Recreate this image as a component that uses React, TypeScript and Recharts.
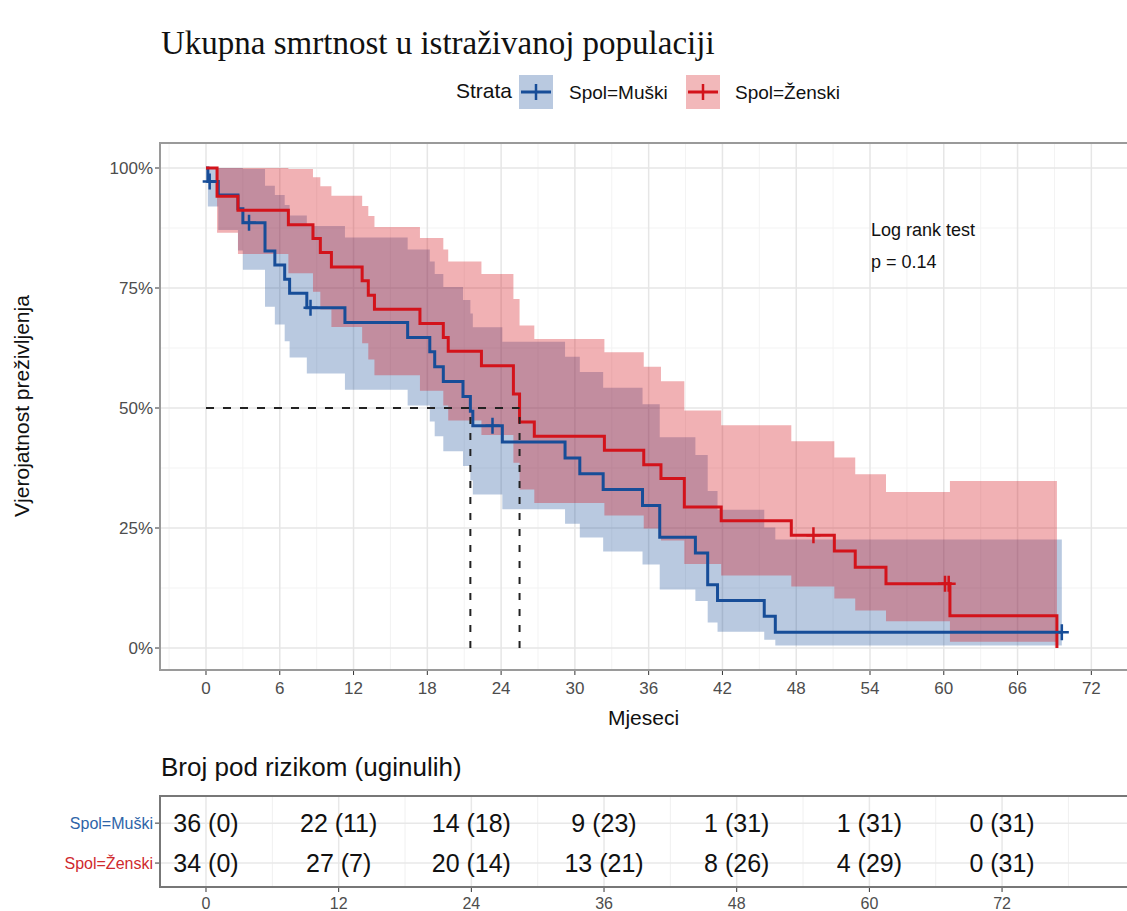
import React from 'react'
import {
  ComposedChart,
  Area,
  Line,
  Scatter,
  XAxis,
  YAxis,
  CartesianGrid,
  ReferenceLine,
} from 'recharts'

// survival steps (percent)
const maleTimes = [0, 0.15, 1.0, 2.6, 3.0, 4.8, 5.6, 6.4, 6.8, 8.2, 11.3, 16.4, 18.2, 18.6, 19.3, 20.9, 21.5, 21.7, 24.1, 29.2, 30.4, 32.3, 35.5, 36.9, 39.8, 40.8, 41.6, 45.4, 46.3, 69.6]
const maleSurv = [100, 97.2, 94.4, 91.5, 88.6, 82.7, 79.8, 76.8, 73.9, 70.9, 67.8, 64.7, 61.7, 58.6, 55.5, 52.4, 49.3, 46.3, 42.9, 39.6, 36.3, 33.0, 29.7, 23.1, 19.8, 13.2, 9.9, 6.6, 3.3, 3.3]
const maleLower = [100, 92.0, 87.1, 82.8, 78.8, 71.1, 67.4, 63.9, 60.5, 57.2, 53.8, 50.5, 47.2, 44.1, 41.0, 37.9, 34.9, 32.0, 28.9, 25.9, 23.0, 20.1, 17.4, 12.2, 9.8, 5.3, 3.4, 1.7, 0.5, 0.5]
const maleUpper = [100, 100, 100, 100, 99.8, 96.3, 94.4, 92.3, 90.1, 87.9, 85.5, 83.0, 80.5, 77.9, 75.2, 72.5, 69.7, 66.8, 63.8, 60.7, 57.5, 54.2, 50.8, 43.9, 40.2, 32.7, 28.8, 25.1, 22.6, 22.6]

const femaleTimes = [0, 0.9, 2.6, 6.7, 8.7, 9.3, 10.2, 12.7, 13.2, 13.7, 17.4, 19.3, 19.7, 22.4, 25.0, 25.5, 26.7, 32.4, 35.6, 37.0, 38.9, 41.9, 47.6, 51.1, 52.8, 55.3, 60.5, 69.2]
const femaleSurv = [100, 94.1, 91.2, 88.2, 85.3, 82.4, 79.4, 76.5, 73.5, 70.6, 67.6, 64.7, 61.8, 58.8, 52.9, 47.1, 44.1, 41.2, 38.2, 35.3, 29.4, 26.5, 23.5, 20.2, 16.8, 13.4, 6.7, 0]
const femaleLower = [100, 86.5, 82.1, 78.1, 74.2, 70.5, 66.9, 63.5, 60.1, 56.8, 53.6, 50.5, 47.4, 44.4, 38.6, 33.0, 30.2, 27.6, 24.9, 22.4, 17.5, 15.1, 12.8, 10.3, 7.8, 5.6, 1.3, 1.3]
const femaleUpper = [100, 100, 100, 99.8, 98.1, 96.2, 94.2, 92.1, 90.0, 87.7, 85.4, 83.0, 80.5, 77.9, 72.7, 67.2, 64.4, 61.6, 58.6, 55.6, 49.5, 46.4, 43.1, 39.7, 36.2, 32.5, 34.8, 34.8]

const maleCensorTimes = [0.3, 3.5, 8.5, 23.3, 69.6]
const maleCensorSurv = [97.2, 88.6, 70.9, 46.3, 3.3]
const femaleCensorTimes = [49.4, 60.1, 60.4]
const femaleCensorSurv = [23.5, 13.4, 13.4]

const medianTimes = [21.5, 25.5]

const xTicks = [0, 6, 12, 18, 24, 30, 36, 42, 48, 54, 60, 66, 72]
const xMinor = [-3, 3, 9, 15, 21, 27, 33, 39, 45, 51, 57, 63, 69, 75]
const yTicks = [0, 25, 50, 75, 100]
const yMinor = [12.5, 37.5, 62.5, 87.5]

// risk table
const riskTimes = [0, 12, 24, 36, 48, 60, 72]
const maleAtRisk = [36, 22, 14, 9, 1, 1, 0]
const maleDeaths = [0, 11, 18, 23, 31, 31, 31]
const femaleAtRisk = [34, 27, 20, 13, 8, 4, 0]
const femaleDeaths = [0, 7, 14, 21, 26, 29, 31]
const riskStrata = ['Spol=Muški', 'Spol=Ženski']

const MALE = '#174D98'
const FEMALE = '#D3131B'
const FONT = '"Liberation Sans", Arial, sans-serif'

const maleData = maleTimes.map((t, i) => ({ t, s: maleSurv[i], band: [maleLower[i], maleUpper[i]] }))
const femaleData = femaleTimes.map((t, i) => ({ t, s: femaleSurv[i], band: [femaleLower[i], femaleUpper[i]] }))
const maleCensors = maleCensorTimes.map((t, i) => ({ t, s: maleCensorSurv[i] }))
const femaleCensors = femaleCensorTimes.map((t, i) => ({ t, s: femaleCensorSurv[i] }))

const riskRows = [
  ...riskTimes.map((t, i) => ({ t, row: 2, label: `${maleAtRisk[i]} (${maleDeaths[i]})` })),
  ...riskTimes.map((t, i) => ({ t, row: 1, label: `${femaleAtRisk[i]} (${femaleDeaths[i]})` })),
]

const plus = (color: string) => (props: any) => {
  const { cx, cy } = props
  return (
    <path
      d={`M${cx - 7},${cy}H${cx + 7}M${cx},${cy - 8}V${cy + 8}`}
      stroke={color}
      strokeWidth={2.5}
      fill='none'
    />
  )
}

const riskLabel = (props: any) => {
  const { cx, cy, payload } = props
  return (
    <text x={cx} y={cy} textAnchor='middle' dominantBaseline='central' fontSize={25} fontFamily={FONT} fill='#111'>
      {payload.label}
    </text>
  )
}

const StrataTick = (props: any) => {
  const { x, y, payload } = props
  const label = payload.value === 2 ? riskStrata[0] : riskStrata[1]
  return (
    <text x={x} y={y} textAnchor='end' dominantBaseline='central' fontSize={16} fontFamily={FONT} fill={payload.value === 2 ? '#2E64A8' : '#CF2A2E'}>
      {label}
    </text>
  )
}

const LegendKey = ({ color, left }: { color: string; left: number }) => (
  <svg width={34} height={34} style={{ position: 'absolute', left, top: 75 }}>
    <rect x={0} y={0} width={34} height={34} fill={color} fillOpacity={0.3} />
    <line x1={2} y1={17} x2={32} y2={17} stroke={color} strokeWidth={3} />
    <line x1={17} y1={9} x2={17} y2={25} stroke={color} strokeWidth={2.5} />
  </svg>
)

const tickStyle = { fill: '#4d4d4d', fontSize: 17, fontFamily: FONT }

export default function App() {
  return (
    <div style={{ position: 'absolute', left: 0, top: 0, width: 1127, height: 911, background: '#fff', fontFamily: FONT, overflow: 'hidden' }}>
      <div style={{ position: 'absolute', left: 161, top: 25, fontFamily: '"Liberation Serif", "Times New Roman", serif', fontSize: 33, color: '#111', whiteSpace: 'nowrap' }}>
        Ukupna smrtnost u istraživanoj populaciji
      </div>

      {/* legend */}
      <div style={{ position: 'absolute', right: 1127 - 512, top: 79, fontSize: 21, color: '#111', whiteSpace: 'nowrap' }}>Strata</div>
      <LegendKey color={MALE} left={519} />
      <div style={{ position: 'absolute', left: 569, top: 82, fontSize: 19, color: '#111', whiteSpace: 'nowrap' }}>Spol=Muški</div>
      <LegendKey color={FEMALE} left={686} />
      <div style={{ position: 'absolute', left: 735, top: 82, fontSize: 19, color: '#111', whiteSpace: 'nowrap' }}>Spol=Ženski</div>

      <div style={{ position: 'absolute', left: 0, top: 0 }}>
        <ComposedChart width={1127} height={710} margin={{ top: 143, right: 0, bottom: 0, left: 0 }}>
          <CartesianGrid stroke='#f3f3f3' strokeWidth={1} verticalValues={xMinor} horizontalValues={yMinor} />
          <CartesianGrid stroke='#e6e6e6' strokeWidth={1.5} verticalValues={xTicks} horizontalValues={yTicks} />
          <XAxis
            dataKey='t'
            type='number'
            domain={[-3.74, 74.9]}
            ticks={xTicks}
            allowDataOverflow
            height={40}
            axisLine={false}
            tickLine={{ stroke: '#333' }}
            tickSize={5}
            tick={{ ...tickStyle, dy: 5 }}
            interval={0}
          />
          <YAxis
            type='number'
            domain={[-4.58, 105.21]}
            ticks={yTicks}
            allowDataOverflow
            width={160}
            axisLine={false}
            tickLine={{ stroke: '#333' }}
            tickSize={5}
            tick={tickStyle}
            tickFormatter={(v: number) => `${v}%`}
            interval={0}
          />
          <Area data={maleData} dataKey='band' type='stepAfter' stroke='none' fill={MALE} fillOpacity={0.3} isAnimationActive={false} />
          <Line data={maleData} dataKey='s' type='stepAfter' stroke={MALE} strokeWidth={3} dot={false} isAnimationActive={false} />
          <Scatter data={maleCensors} dataKey='s' shape={plus(MALE)} isAnimationActive={false} />
          <Area data={femaleData} dataKey='band' type='stepAfter' stroke='none' fill={FEMALE} fillOpacity={0.33} isAnimationActive={false} />
          <Line data={femaleData} dataKey='s' type='stepAfter' stroke={FEMALE} strokeWidth={3} dot={false} isAnimationActive={false} />
          <Scatter data={femaleCensors} dataKey='s' shape={plus(FEMALE)} isAnimationActive={false} />
          <ReferenceLine segment={[{ x: 0, y: 50 }, { x: medianTimes[1], y: 50 }]} stroke='#222' strokeWidth={2} strokeDasharray='8 9' />
          {medianTimes.map((m) => (
            <ReferenceLine key={m} segment={[{ x: m, y: 0 }, { x: m, y: 50 }]} stroke='#222' strokeWidth={2} strokeDasharray='7 9' />
          ))}
        </ComposedChart>
      </div>

      {/* panel border */}
      <div style={{ position: 'absolute', left: 159, top: 142, width: 970, height: 529, border: '2px solid #9a9a9a', boxSizing: 'border-box', pointerEvents: 'none' }} />

      <div style={{ position: 'absolute', left: 871, top: 214, fontSize: 18, color: '#111', lineHeight: '32px' }}>
        Log rank test<br />p = 0.14
      </div>

      <div style={{ position: 'absolute', left: 160, width: 967, top: 706, textAlign: 'center', fontSize: 21, color: '#111' }}>
        Mjeseci
      </div>
      <div style={{ position: 'absolute', left: 22, top: 406, transform: 'translate(-50%, -50%) rotate(-90deg)', fontSize: 21, color: '#111', whiteSpace: 'nowrap' }}>
        Vjerojatnost preživljenja
      </div>

      <div style={{ position: 'absolute', left: 161, top: 752, fontSize: 26, color: '#111', whiteSpace: 'nowrap' }}>
        Broj pod rizikom (uginulih)
      </div>

      <div style={{ position: 'absolute', left: 0, top: 780 }}>
        <ComposedChart width={1127} height={131} data={riskRows} margin={{ top: 16, right: 0, bottom: 0, left: 0 }}>
          <CartesianGrid stroke='#f0f0f0' verticalValues={[6, 18, 30, 42, 54, 66, 78]} horizontal={false} />
          <CartesianGrid stroke='#e8e8e8' strokeWidth={1.5} verticalValues={riskTimes} horizontalValues={[1, 2]} />
          <XAxis
            dataKey='t'
            type='number'
            domain={[-4.16, 83.3]}
            ticks={riskTimes}
            allowDataOverflow
            height={24}
            axisLine={false}
            tickLine={{ stroke: '#333' }}
            tickSize={5}
            tick={{ ...tickStyle, fontSize: 16, dy: 4 }}
            interval={0}
          />
          <YAxis
            dataKey='row'
            type='number'
            domain={[0.4, 2.68]}
            ticks={[1, 2]}
            allowDataOverflow
            width={160}
            axisLine={false}
            tickLine={{ stroke: '#333' }}
            tickSize={5}
            tick={<StrataTick />}
            interval={0}
          />
          <Scatter dataKey='row' shape={riskLabel} isAnimationActive={false} />
        </ComposedChart>
      </div>
      <div style={{ position: 'absolute', left: 159, top: 795, width: 970, height: 93, border: '2px solid #777', boxSizing: 'border-box', pointerEvents: 'none' }} />
    </div>
  )
}
